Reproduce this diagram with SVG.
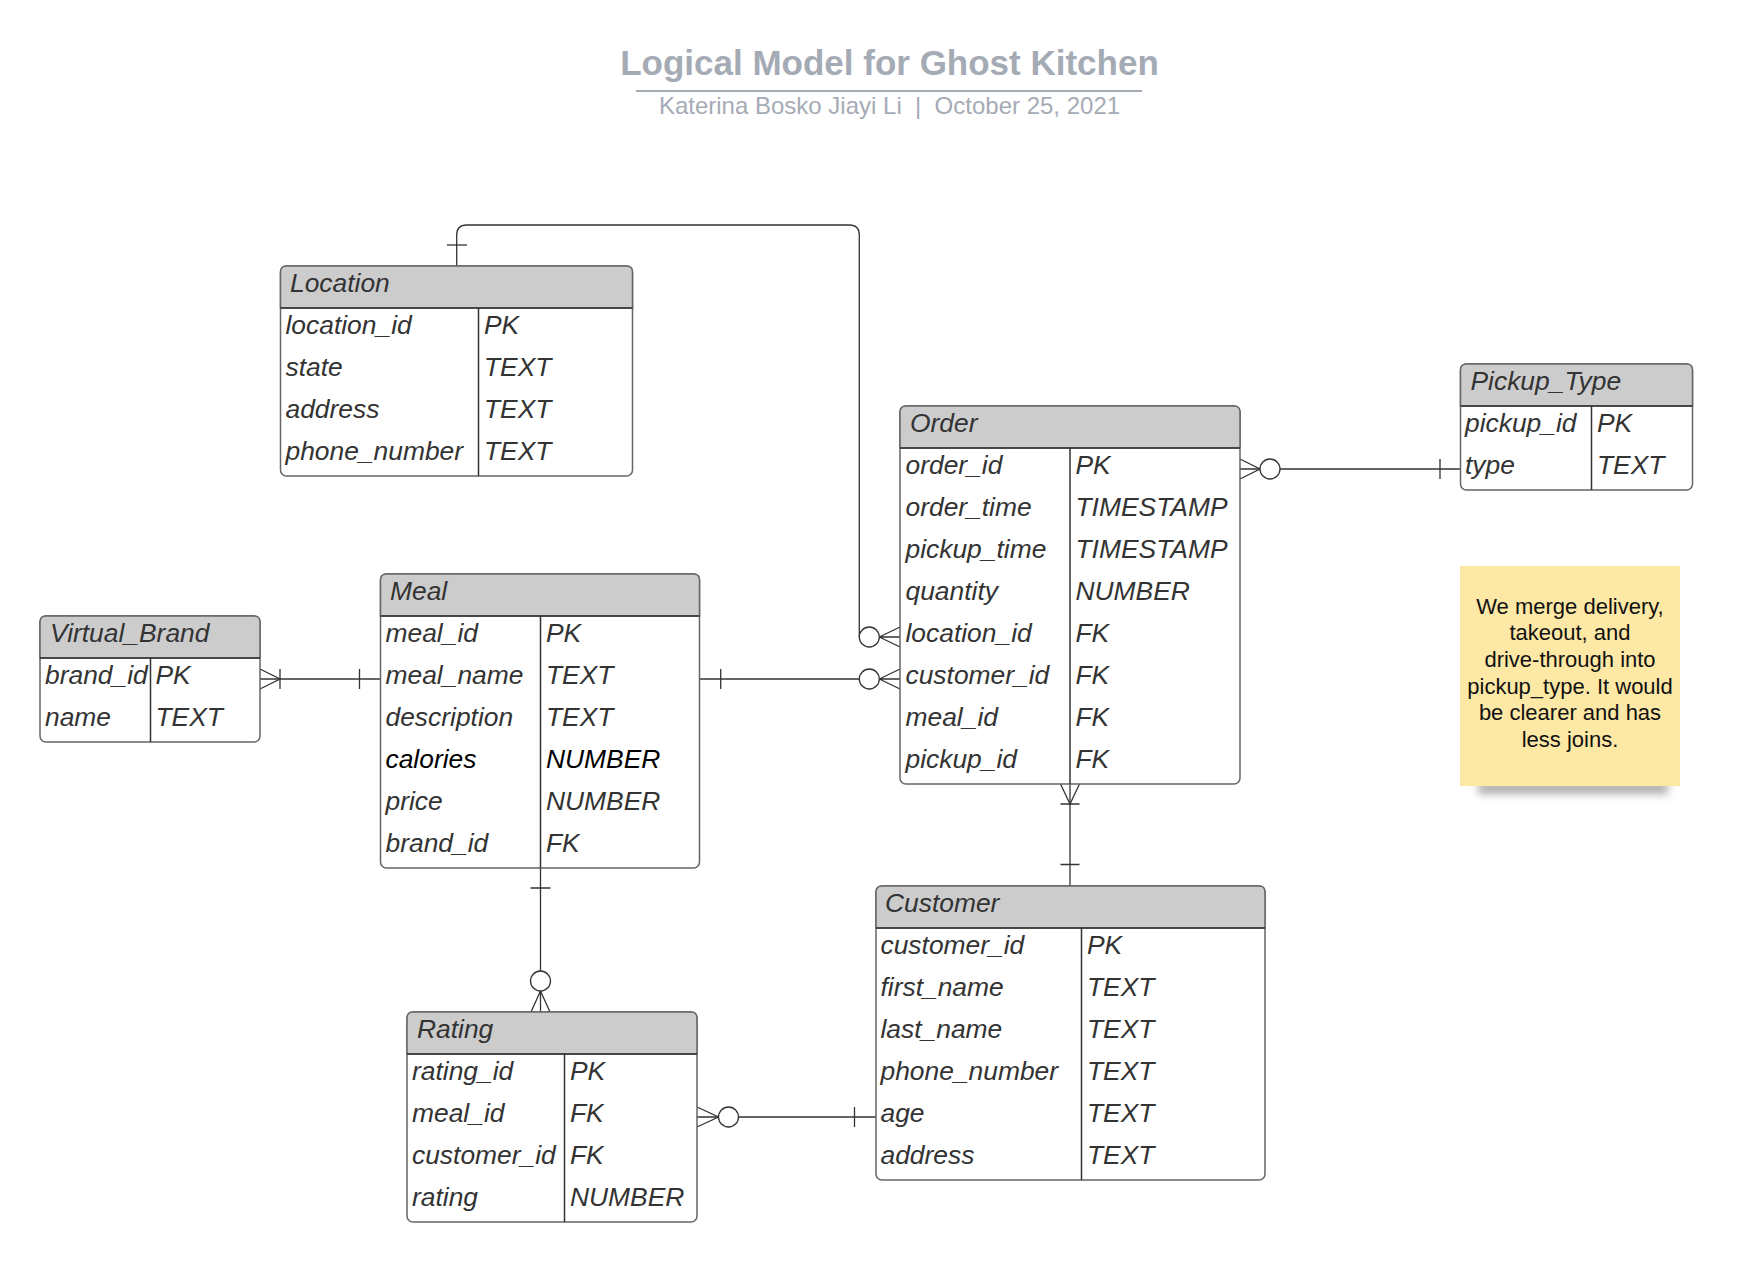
<svg xmlns="http://www.w3.org/2000/svg" width="1748" height="1262" viewBox="0 0 1748 1262">
<style>
.f{font-family:"Liberation Sans",Arial,sans-serif;font-size:26.4px;font-style:italic;fill:#333}
.k{fill:#000}
.box{fill:#fff;stroke:#666;stroke-width:1.5}
.hd{fill:#cccccc;stroke:#666;stroke-width:1.5}
.sep{stroke:#333;stroke-width:1.5;fill:none}
.c{stroke:#333;stroke-width:1.3;fill:none}
.o{stroke:#333;stroke-width:1.3;fill:#fff}
.ttl{font-family:"Liberation Sans",Arial,sans-serif;fill:#a5abb5}
.note{font-family:"Liberation Sans",Arial,sans-serif;font-size:22px;fill:#111;text-anchor:middle}
</style>
<defs>
<filter id="blur" x="-20%" y="-100%" width="140%" height="300%"><feGaussianBlur stdDeviation="4"/></filter>
</defs>
<rect width="1748" height="1262" fill="#fff"/>

<g id="title">
<text class="ttl" x="889.5" y="74.5" font-size="35" font-weight="bold" text-anchor="middle">Logical Model for Ghost Kitchen</text>
<path d="M636,91 H1142" stroke="#a5abb5" stroke-width="2"/>
<text class="ttl" x="889.5" y="113.5" font-size="24" text-anchor="middle">Katerina Bosko Jiayi Li&#160; |&#160; October 25, 2021</text>
</g>

<g id="connectors">
<!-- Location - Order -->
<path class="c" d="M456.7,266 V235 Q456.7,225 466.7,225 H849.3 Q859.3,225 859.3,235 V637"/>
<path class="c" d="M447,245 H467"/>
<path class="c" d="M879.3,637 H900 M879.3,637 L900,627 M879.3,637 L900,647"/>
<circle class="o" cx="869.3" cy="637" r="10"/>
<!-- Meal - Order -->
<path class="c" d="M699.5,679 H859.3"/>
<path class="c" d="M720.7,669 V689"/>
<path class="c" d="M879.3,679 H900 M879.3,679 L900,669 M879.3,679 L900,689"/>
<circle class="o" cx="869.3" cy="679" r="10"/>
<!-- Virtual_Brand - Meal -->
<path class="c" d="M260,679 H380.5"/>
<path class="c" d="M260,669 L280,679 L260,689 M280,669 V689 M359.5,669 V689"/>
<!-- Order - Pickup_Type -->
<path class="c" d="M1240,469 H1460.5"/>
<path class="c" d="M1240,459 L1260,469 L1240,479 M1440,459 V479"/>
<circle class="o" cx="1270" cy="469" r="10"/>
<!-- Order - Customer -->
<path class="c" d="M1070,784 V886"/>
<path class="c" d="M1060.5,784 L1070,804 L1079.5,784 M1060.5,804 H1079.5 M1060.5,864.5 H1079.5"/>
<!-- Meal - Rating -->
<path class="c" d="M540.5,868 V1012"/>
<path class="c" d="M530.5,888 H550.5 M540.5,991 L531,1012 M540.5,991 L550,1012"/>
<circle class="o" cx="540.5" cy="981" r="10"/>
<!-- Rating - Customer -->
<path class="c" d="M697,1117 H876"/>
<path class="c" d="M697,1107 L718.5,1117 L697,1127 M854.5,1107 V1127"/>
<circle class="o" cx="728.5" cy="1117" r="10"/>
</g>

<g id="location">
<rect class="box" x="280.5" y="266" width="352" height="210" rx="6"/>
<path class="hd" d="M280.5,308 V272 Q280.5,266 286.5,266 H626.5 Q632.5,266 632.5,272 V308 Z"/>
<path class="sep" d="M280.5,308 H632.5 M478.5,308 V476"/>
<text class="f" x="290" y="292">Location</text>
<text class="f" x="285.5" y="334">location_id</text><text class="f" x="484" y="334">PK</text>
<text class="f" x="285.5" y="376">state</text><text class="f" x="484" y="376">TEXT</text>
<text class="f" x="285.5" y="418">address</text><text class="f" x="484" y="418">TEXT</text>
<text class="f" x="285.5" y="460">phone_number</text><text class="f" x="484" y="460">TEXT</text>
</g>

<g id="order">
<rect class="box" x="900" y="406" width="340" height="378" rx="6"/>
<path class="hd" d="M900,448 V412 Q900,406 906,406 H1234 Q1240,406 1240,412 V448 Z"/>
<path class="sep" d="M900,448 H1240 M1070,448 V784"/>
<text class="f" x="910" y="432">Order</text>
<text class="f" x="905.5" y="474">order_id</text><text class="f" x="1075.5" y="474">PK</text>
<text class="f" x="905.5" y="516">order_time</text><text class="f" x="1075.5" y="516">TIMESTAMP</text>
<text class="f" x="905.5" y="558">pickup_time</text><text class="f" x="1075.5" y="558">TIMESTAMP</text>
<text class="f" x="905.5" y="600">quantity</text><text class="f" x="1075.5" y="600">NUMBER</text>
<text class="f" x="905.5" y="642">location_id</text><text class="f" x="1075.5" y="642">FK</text>
<text class="f" x="905.5" y="684">customer_id</text><text class="f" x="1075.5" y="684">FK</text>
<text class="f" x="905.5" y="726">meal_id</text><text class="f" x="1075.5" y="726">FK</text>
<text class="f" x="905.5" y="768">pickup_id</text><text class="f" x="1075.5" y="768">FK</text>
</g>

<g id="pickup_type">
<rect class="box" x="1460.5" y="364" width="232" height="126" rx="6"/>
<path class="hd" d="M1460.5,406 V370 Q1460.5,364 1466.5,364 H1686.5 Q1692.5,364 1692.5,370 V406 Z"/>
<path class="sep" d="M1460.5,406 H1692.5 M1591.5,406 V490"/>
<text class="f" x="1470.5" y="390">Pickup_Type</text>
<text class="f" x="1465" y="432">pickup_id</text><text class="f" x="1597" y="432">PK</text>
<text class="f" x="1465" y="474">type</text><text class="f" x="1597" y="474">TEXT</text>
</g>

<g id="virtual_brand">
<rect class="box" x="40" y="616" width="220" height="126" rx="6"/>
<path class="hd" d="M40,658 V622 Q40,616 46,616 H254 Q260,616 260,622 V658 Z"/>
<path class="sep" d="M40,658 H260 M150.5,658 V742"/>
<text class="f" x="50" y="642">Virtual_Brand</text>
<text class="f" x="45" y="684">brand_id</text><text class="f" x="155.5" y="684">PK</text>
<text class="f" x="45" y="726">name</text><text class="f" x="155.5" y="726">TEXT</text>
</g>

<g id="meal">
<rect class="box" x="380.5" y="574" width="319" height="294" rx="6"/>
<path class="hd" d="M380.5,616 V580 Q380.5,574 386.5,574 H693.5 Q699.5,574 699.5,580 V616 Z"/>
<path class="sep" d="M380.5,616 H699.5 M540.5,616 V868"/>
<text class="f" x="390" y="600">Meal</text>
<text class="f" x="385.5" y="642">meal_id</text><text class="f" x="546" y="642">PK</text>
<text class="f" x="385.5" y="684">meal_name</text><text class="f" x="546" y="684">TEXT</text>
<text class="f" x="385.5" y="726">description</text><text class="f" x="546" y="726">TEXT</text>
<text class="f k" x="385.5" y="768">calories</text><text class="f k" x="546" y="768">NUMBER</text>
<text class="f" x="385.5" y="810">price</text><text class="f" x="546" y="810">NUMBER</text>
<text class="f" x="385.5" y="852">brand_id</text><text class="f" x="546" y="852">FK</text>
</g>

<g id="customer">
<rect class="box" x="876" y="886" width="389" height="294" rx="6"/>
<path class="hd" d="M876,928 V892 Q876,886 882,886 H1259 Q1265,886 1265,892 V928 Z"/>
<path class="sep" d="M876,928 H1265 M1081.5,928 V1180"/>
<text class="f" x="885" y="912">Customer</text>
<text class="f" x="880.5" y="954">customer_id</text><text class="f" x="1087" y="954">PK</text>
<text class="f" x="880.5" y="996">first_name</text><text class="f" x="1087" y="996">TEXT</text>
<text class="f" x="880.5" y="1038">last_name</text><text class="f" x="1087" y="1038">TEXT</text>
<text class="f" x="880.5" y="1080">phone_number</text><text class="f" x="1087" y="1080">TEXT</text>
<text class="f" x="880.5" y="1122">age</text><text class="f" x="1087" y="1122">TEXT</text>
<text class="f" x="880.5" y="1164">address</text><text class="f" x="1087" y="1164">TEXT</text>
</g>

<g id="rating">
<rect class="box" x="407" y="1012" width="290" height="210" rx="6"/>
<path class="hd" d="M407,1054 V1018 Q407,1012 413,1012 H691 Q697,1012 697,1018 V1054 Z"/>
<path class="sep" d="M407,1054 H697 M564.5,1054 V1222"/>
<text class="f" x="417" y="1038">Rating</text>
<text class="f" x="412" y="1080">rating_id</text><text class="f" x="570" y="1080">PK</text>
<text class="f" x="412" y="1122">meal_id</text><text class="f" x="570" y="1122">FK</text>
<text class="f" x="412" y="1164">customer_id</text><text class="f" x="570" y="1164">FK</text>
<text class="f" x="412" y="1206">rating</text><text class="f" x="570" y="1206">NUMBER</text>
</g>

<g id="note">
<rect x="1478" y="782" width="190" height="12" fill="#8a8a8a" opacity="0.7" filter="url(#blur)"/>
<rect x="1460" y="566" width="220" height="220" fill="#fee8a5"/>
<text class="note" x="1570" y="613.5">We merge delivery,</text>
<text class="note" x="1570" y="640.2">takeout, and</text>
<text class="note" x="1570" y="666.9">drive-through into</text>
<text class="note" x="1570" y="693.6">pickup_type. It would</text>
<text class="note" x="1570" y="720.3">be clearer and has</text>
<text class="note" x="1570" y="747">less joins.</text>
</g>
</svg>
